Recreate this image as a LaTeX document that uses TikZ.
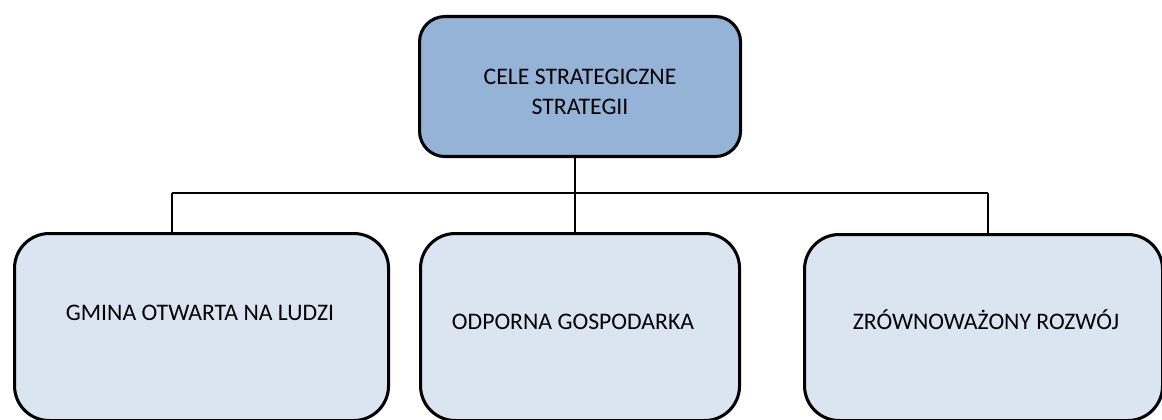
\documentclass[tikz,border=0pt]{standalone}
\usepackage{fontspec}
\setmainfont{Carlito}
\definecolor{topfill}{HTML}{95B3D7}
\definecolor{subfill}{HTML}{DBE5F1}
\begin{document}
\begin{tikzpicture}[x=0.75pt,y=-0.75pt,
  boxbase/.style={draw=black, line width=2.3pt, anchor=north west, inner sep=0pt},
  topbox/.style={boxbase, fill=topfill, rounded corners=19pt},
  subbox/.style={boxbase, fill=subfill, rounded corners=26pt},
  lbl/.style={font=\fontsize{17.8pt}{22.5pt}\selectfont, text=black, align=center, inner sep=0pt},
  conn/.style={draw=black, line width=1.1pt}]
\useasboundingbox (0,0) rectangle (1162,420);
\clip (0,0) rectangle (1162,420);
% boxes
\node[topbox, minimum width=240.75pt, minimum height=105pt] (top) at (418,15) {};
\node[subbox, minimum width=280.5pt, minimum height=140.25pt] (left) at (13,232) {};
\node[subbox, minimum width=239.25pt, minimum height=140.25pt] (mid) at (419,232) {};
\node[subbox, minimum width=268.5pt, minimum height=139.5pt] (right) at (803,233) {};
% texts
\node[lbl] (toptxt) at (580,92) {CELE STRATEGICZNE\\STRATEGII};
\node[lbl, anchor=base] (lefttxt) at (200,320.6) {GMINA OTWARTA NA LUDZI};
\node[lbl, anchor=base] (midtxt) at (573,329.6) {ODPORNA GOSPODARKA};
\node[lbl, anchor=base] (righttxt) at (986,329.6) {ZRÓWNOWAŻONY ROZWÓJ};
% connectors
\coordinate (jm) at (575,193);
\coordinate (jl) at (172,193);
\coordinate (jr) at (988,193);
\draw[conn] (top.south -| jm) -- (jm);
\draw[conn] (jl) -- (jr);
\draw[conn] (jl) -- (left.north -| jl);
\draw[conn] (jm) -- (mid.north -| jm);
\draw[conn] (jr) -- (right.north -| jr);
\end{tikzpicture}
\end{document}
